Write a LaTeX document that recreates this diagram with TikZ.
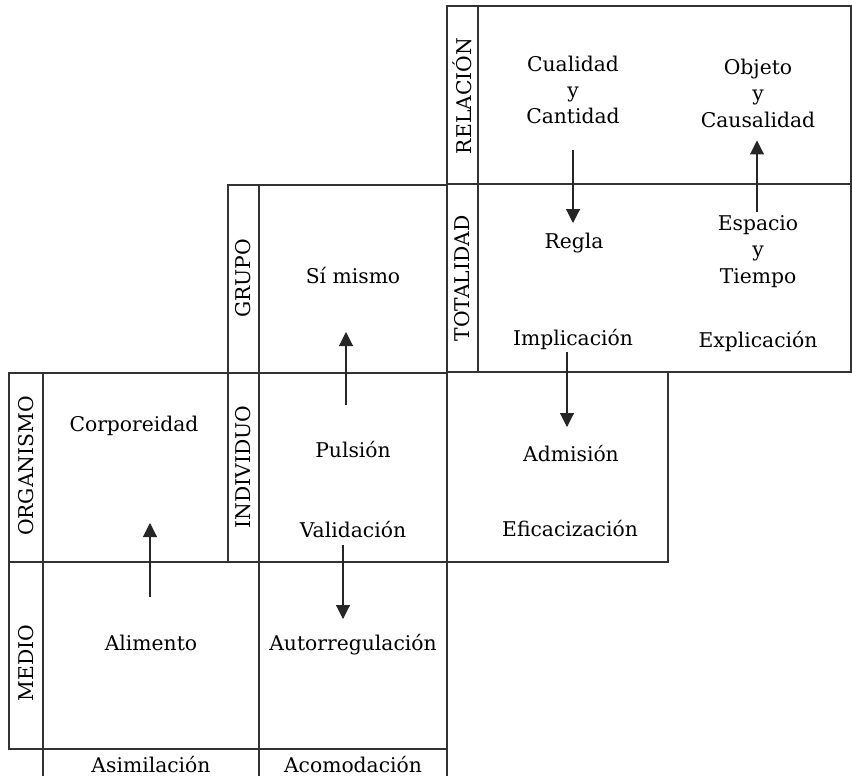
\documentclass[tikz,border=0pt]{standalone}
\usepackage{fontspec}
\setmainfont{DejaVu Serif}
\usetikzlibrary{arrows.meta,calc}

\begin{document}
\begin{tikzpicture}[x=1pt,y=-1pt,
  frame/.style={draw=black!80, line width=1.1pt},
  txt/.style={anchor=base, inner sep=0pt, align=center,
    font=\fontsize{20.3}{26.5}\selectfont},
  side/.style={rotate=90, inner sep=0pt,
    font=\fontsize{20.3}{22}\selectfont},
  arr/.style={draw=black!85, line width=1.1pt,
    -{Triangle[length=14pt,width=14pt]}}]

\useasboundingbox (0,0) rectangle (852,776);

% --- frames ---
% RELACION / TOTALIDAD
\draw[frame] (447,6) rectangle (851,372);
\draw[frame] (447,184) -- (851,184);
\draw[frame] (478,6) -- (478,372);
% GRUPO / INDIVIDUO
\draw[frame] (228,185) rectangle (447,562);
\draw[frame] (228,373) -- (447,373);
\draw[frame] (259,185) -- (259,776);
% ADMISION block
\draw[frame] (447,372) -- (668,372) -- (668,562) -- (447,562);
% ORGANISMO / MEDIO
\draw[frame] (228,373) -- (9,373) -- (9,749) -- (447,749);
\draw[frame] (9,562) -- (259,562);
\draw[frame] (43,373) -- (43,776);
\draw[frame] (447,562) -- (447,776);

% --- side labels ---
\node[side] (relL) at (462.5,96) {RELACIÓN};
\node[side] (totL) at (462.5,278.5) {TOTALIDAD};
\node[side] (grpL) at (243.5,278.5) {GRUPO};
\node[side] (indL) at (243.5,467) {INDIVIDUO};
\node[side] (orgL) at (26,466) {ORGANISMO};
\node[side] (medL) at (26,663) {MEDIO};

% --- cell texts (multi-line nodes sit on the baseline of their last line) ---
\node[txt] (cc)   at (573,124) {Cualidad\\y\\Cantidad};
\node[txt] (oc)   at (758,127) {Objeto\\y\\Causalidad};
\node[txt] (regla) at (574,248) {Regla};
\node[txt] (ety)  at (758,283) {Espacio\\y\\Tiempo};
\node[txt] (impl) at (573,345) {Implicación};
\node[txt] (expl) at (758,347) {Explicación};
\node[txt] (adm)  at (571,461) {Admisión};
\node[txt] (efic) at (570,536) {Eficacización};
\node[txt] (simi) at (353,283) {Sí mismo};
\node[txt] (puls) at (353,457) {Pulsión};
\node[txt] (vali) at (353,537) {Validación};
\node[txt] (auto) at (353,650) {Autorregulación};
\node[txt] (corp) at (134,431) {Corporeidad};
\node[txt] (alim) at (151,650) {Alimento};
\node[txt] (asim) at (151,772) {Asimilación};
\node[txt] (acom) at (353,772) {Acomodación};

% --- arrows ---
\draw[arr] ($(alim.base)+(-1,-53)$) -- ($(corp.base)+(16,92)$);
\draw[arr] ($(puls.base)+(-7,-52)$) -- ($(simi.base)+(-7,49)$);
\draw[arr] ($(vali.base)+(-10,8)$) -- ($(auto.base)+(-10,-31)$);
\draw[arr] ($(cc.south)+(0,26)$) -- ($(regla.base)+(-1,-25)$);
\draw[arr] ($(ety.north)+(-1,-3)$) -- ($(oc.south)+(-1,13)$);
\draw[arr] ($(impl.base)+(-6,7)$) -- ($(adm.base)+(-4,-34)$);
\end{tikzpicture}
\end{document}
